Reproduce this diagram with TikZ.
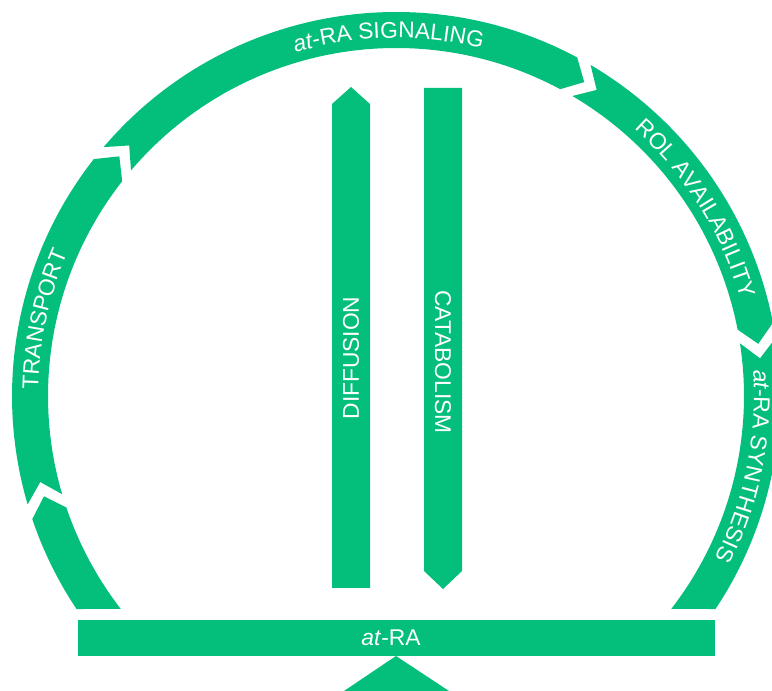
\documentclass[tikz,border=0pt]{standalone}
\usepackage{fontspec}
\setmainfont{Liberation Sans}
\usetikzlibrary{decorations.text}
\definecolor{ringgreen}{HTML}{04BF7B}
\newcommand{\labelfont}{\fontsize{22.8}{27}\selectfont}

\begin{document}
\begin{tikzpicture}[x=1pt,y=1pt,font=\labelfont]
\tikzset{band/.style={fill=ringgreen}}
\tikzset{bartext/.style={text=white,inner sep=0pt}}
\tikzset{arclabel/.style={decorate,decoration={text along path,text align=center,text color=white,text={#1}}}}
\def\Rout{384}\def\Rin{348}\def\Rmid{366}\def\Rtxt{358}
\useasboundingbox (0,0) rectangle (772,691);
% ring of chevron pieces, centre (396,295)
\begin{scope}[shift={(396,295)}]
\fill[band] (213.7:\Rout) arc[start angle=213.7,end angle=198.7,radius=\Rout] -- (195.9:\Rmid) -- (198.7:\Rin) arc[start angle=198.7,end angle=217.7,radius=\Rin] -- cycle;
\foreach \a/\b in {196.4/141.9,139.6/61.85,59.55/11}
  \fill[band] (\a:\Rout) arc[start angle=\a,end angle=\b,radius=\Rout] -- ({\b-2.8}:\Rmid) -- (\b:\Rin) arc[start angle=\b,end angle=\a,radius=\Rin] -- ({\a-2.8}:\Rmid) -- cycle;
\fill[band] (8.7:\Rout) arc[start angle=8.7,end angle=-33.7,radius=\Rout] -- (-37.7:\Rin) arc[start angle=-37.7,end angle=8.7,radius=\Rin] -- (5.9:\Rmid) -- cycle;
% labels along the ring
\path[arclabel={|\labelfont|TRANSPORT}] (192.7:\Rtxt) arc[start angle=192.7,end angle=142.7,radius=\Rtxt];
\path[arclabel={|\labelfont\itshape|at|\labelfont|-RA SIGNALING}] (121.2:\Rtxt) arc[start angle=121.2,end angle=61.2,radius=\Rtxt];
\path[arclabel={|\labelfont|ROL AVAILABILITY}] (57:\Rtxt) arc[start angle=57,end angle=7,radius=\Rtxt];
\path[arclabel={|\labelfont\itshape|at|\labelfont|-RA SYNTHESIS}] (13.6:\Rtxt) arc[start angle=13.6,end angle=-36.4,radius=\Rtxt];
\end{scope}
% inner bars
\fill[band] (332,103) -- (332,587) -- (351,604) -- (370,587) -- (370,103) -- cycle;
\fill[band] (424,603) -- (424,120) -- (443,102) -- (462,120) -- (462,603) -- cycle;
\node[bartext,rotate=90] (diffusion) at (351,333) {DIFFUSION};
\node[bartext,rotate=-90] (catabolism) at (443,329) {CATABOLISM};
% base bar and wedge
\fill[band] (78,35) rectangle (715,71);
\fill[band] (396,35) -- (344,0) -- (449,0) -- cycle;
\node[bartext] (atra) at (391,53) {\textit{at}-RA};
\end{tikzpicture}
\end{document}
